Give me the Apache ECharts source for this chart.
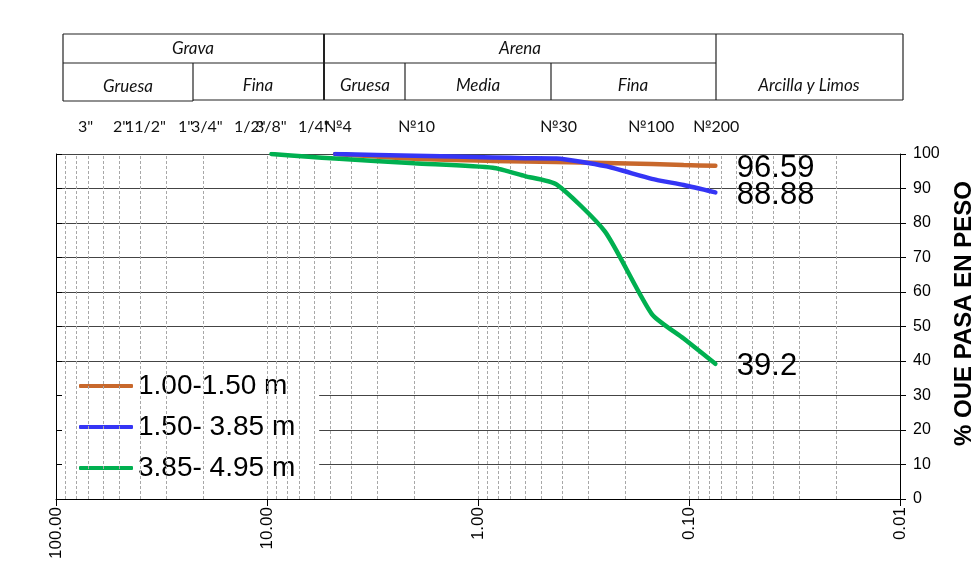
<!DOCTYPE html>
<html>
<head>
<meta charset="utf-8">
<script src="https://cdn.jsdelivr.net/npm/echarts@6/dist/echarts.min.js"></script>
<style>html,body{margin:0;padding:0;background:#fff}#c{width:971px;height:583px}</style>
</head>
<body>
<div id="c"></div>
<script>
// Sieve openings (mm): 3/8", 1/4", No4, No10, No20, No30, No40, No60, No100, No140, No200
const sieveSizes = [9.525, 6.35, 4.75, 2.0, 0.85, 0.6, 0.425, 0.25, 0.15, 0.106, 0.075];
const seriesNames = ['1.00-1.50 m', '1.50- 3.85 m', '3.85- 4.95 m'];
const pass1 = [null, null, 100, 98.6, 98.0, 97.8, 97.7, 97.4, 97.1, 96.8, 96.59];
const pass2 = [null, null, 100, 99.5, 99.0, 98.8, 98.7, 96.5, 92.8, 91.0, 88.88];
const pass3 = [100, 99.2, 98.7, 97.3, 96.0, 93.6, 91.2, 77.5, 53.6, 46.5, 39.2];
const seriesColors = ['#C8682C', '#3535F5', '#00B050'];

const yTicks = [0, 100, 10]; // min, max, interval
const xRange = [0.01, 100];
const sieveLabels = ['3"', '2"', '11/2"', '1"', '3/4"', '1/2"', '3/8"', '1/4"', '№4', '№10', '№30', '№100', '№200'];
const sieveLabelX = [78, 113, 125, 178, 191, 234, 255, 298, 324, 398, 540, 628, 693];
const headerTop = ['Grava', 'Arena'];
const headerSub = ['Gruesa', 'Fina', 'Gruesa', 'Media', 'Fina', 'Arcilla y Limos'];

// minor grid positions for the log axis
const gridVals = [];
[0.01, 0.1, 1, 10].forEach(d => { for (let k = 1; k <= 9; k++) { if (!(d === 0.01 && k === 1)) gridVals.push(+(d * k).toPrecision(3)); } });

function toData(vals) {
  const out = [];
  vals.forEach((v, i) => { if (v !== null) out.push([sieveSizes[i], v]); });
  const last = out[out.length - 1];
  out[out.length - 1] = {
    value: last,
    label: { show: true, position: 'right', distance: 21, offset: [0, 3], fontSize: 31, color: '#000',
      fontFamily: 'Liberation Sans, Arial', formatter: p => String(p.value[1]) }
  };
  return out;
}

const lineSeries = [pass1, pass2, pass3].map((vals, i) => ({
  name: seriesNames[i], type: 'line', data: toData(vals), smooth: 0.2,
  showSymbol: true, symbol: 'circle', symbolSize: 1, z: 5,
  lineStyle: { color: seriesColors[i], width: 4.5, cap: 'round' },
  itemStyle: { color: seriesColors[i] },
  label: { show: false }
}));

const gridSeries = {
  name: 'grid', type: 'line', data: [], z: 1, silent: true,
  markLine: {
    silent: true, symbol: ['none', 'none'], animation: false,
    label: { show: false },
    lineStyle: { color: '#a8a8a8', type: [3, 2], width: 1 },
    data: gridVals.map(v => ({ xAxis: v }))
  }
};

// header table graphics
const L = (x1, y1, x2, y2, w) => ({ type: 'line', shape: { x1, y1, x2, y2 }, style: { stroke: '#222', lineWidth: w || 1.2 }, silent: true });
const T = (text, x, y, italic, align, size) => ({ type: 'text', x, y, style: { text, fill: '#111', font: (italic ? 'italic ' : '') + (size || 16) + 'px Lato, "Open Sans", sans-serif', textAlign: align || 'center', textVerticalAlign: 'middle' }, silent: true });
const graphics = [
  L(63, 34, 903, 34), L(63, 63, 716, 63), L(193, 100, 903, 100), L(63, 101, 193, 101),
  L(63, 34, 63, 101), L(193, 63, 193, 101), L(324, 34, 324, 100, 2), L(405, 63, 405, 100),
  L(551, 63, 551, 100), L(716, 34, 716, 100), L(903, 34, 903, 100),
  T(headerTop[0], 193, 49, true, 'center', 17), T(headerTop[1], 520, 49, true, 'center', 17),
  T(headerSub[0], 128, 87, true, 'center', 17), T(headerSub[1], 258, 86, true, 'center', 17),
  T(headerSub[2], 365, 86, true, 'center', 17), T(headerSub[3], 478, 86, true, 'center', 17),
  T(headerSub[4], 633, 86, true, 'center', 17), T(headerSub[5], 809, 86, true, 'center', 17)
];
sieveLabels.forEach((s, i) => graphics.push(T(s, sieveLabelX[i], 127, false, 'left', 16)));

const chart = echarts.init(document.getElementById('c'), null, { renderer: 'canvas' });
chart.setOption({
  animation: false,
  backgroundColor: '#fff',
  grid: { left: 56, right: 71, top: 154, bottom: 84, containLabel: false, outerBoundsMode: 'none' },
  legend: {
    data: seriesNames, orient: 'vertical', left: 62, top: 367,
    padding: [4, 24, 4, 17], backgroundColor: '#fff', itemGap: 11,
    itemWidth: 54, itemHeight: 4, icon: 'roundRect',
    textStyle: { fontSize: 28, color: '#000', fontFamily: 'Liberation Sans, Arial', lineHeight: 30 }
  },
  xAxis: {
    type: 'log', logBase: 10, min: xRange[0], max: xRange[1], inverse: true,
    axisLine: { show: true, lineStyle: { color: '#000', width: 1 } },
    axisTick: { show: true, length: 7, lineStyle: { color: '#000' } },
    axisLabel: { rotate: 90, fontSize: 17, color: '#000', margin: 8, fontFamily: 'Liberation Sans, Arial',
      formatter: v => Number(v).toFixed(2) },
    splitLine: { show: false }, minorTick: { show: false }
  },
  yAxis: [{
    type: 'value', position: 'right', min: yTicks[0], max: yTicks[1], interval: yTicks[2],
    axisLine: { show: true, lineStyle: { color: '#000' } },
    axisTick: { show: true, length: 6, lineStyle: { color: '#000' } },
    axisLabel: { fontSize: 16, color: '#000', margin: 13, fontFamily: 'Liberation Sans, Arial' },
    splitLine: { show: true, lineStyle: { color: '#444', width: 1 } },
    name: '% QUE PASA EN PESO', nameLocation: 'middle', nameRotate: 90, nameGap: 52,
    nameTextStyle: { fontSize: 24, fontWeight: 'bold', color: '#000', fontFamily: 'Liberation Sans, Arial', padding: [0, 0, 0, 26] }
  }, {
    type: 'value', position: 'left', min: yTicks[0], max: yTicks[1], interval: yTicks[2],
    axisLine: { show: true, lineStyle: { color: '#000' } },
    axisTick: { show: true, inside: true, length: 6, lineStyle: { color: '#000' } },
    axisLabel: { show: false }, splitLine: { show: false }
  }],
  graphic: graphics,
  series: [gridSeries].concat(lineSeries)
});
</script>
</body>
</html>
